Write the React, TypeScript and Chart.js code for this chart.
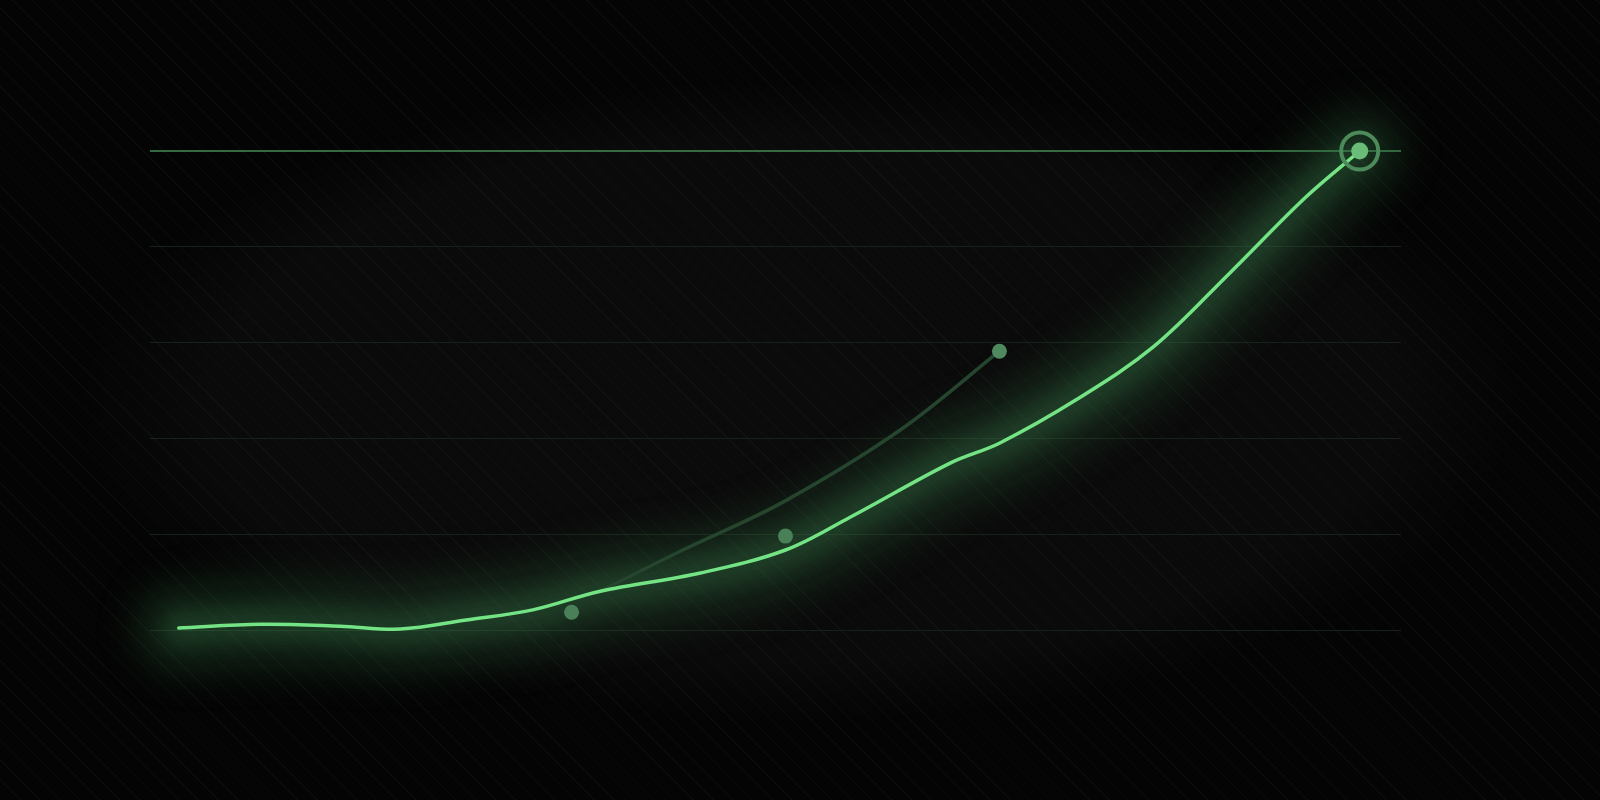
import { useEffect, useRef } from "react";
import Chart from "chart.js/auto";

// main growth curve (x: 0-100 across the plot, y: 0-100)
const mainX = [2.3, 8.8, 15.2, 20.0, 25.3, 30.6, 36.0, 44.0, 50.8, 56.0, 64.0, 67.9, 74.0, 80.2, 86.3, 92.4, 96.7];
const mainY = [0.4, 1.2, 0.8, 0.2, 2.1, 4.2, 8.1, 11.9, 16.7, 23.6, 34.9, 39.0, 48.0, 59.1, 74.5, 90.4, 100];

// dim projection branch
const branchX = [36.0, 42.6, 50.6, 60.0, 67.9];
const branchY = [8.1, 16.7, 26.7, 41.8, 58.2];

// loose markers
const markerX = [33.7, 50.8];
const markerY = [3.7, 19.6];

// highlighted peak
const peakX = [96.7];
const peakY = [100];

const yTicks = [0, 20, 40, 60, 80, 100];

const toPoints = (xs: number[], ys: number[]) => xs.map((x, i) => ({ x, y: ys[i] }));

const glowPlugin = {
	id: "glow",
	beforeDatasetDraw(chart: any, args: any) {
		const ds = chart.data.datasets[args.index];
		if (ds.glowBlur) {
			chart.ctx.save();
			chart.ctx.filter = `blur(${ds.glowBlur}px)`;
		}
	},
	afterDatasetDraw(chart: any, args: any) {
		const ds = chart.data.datasets[args.index];
		if (ds.glowBlur) chart.ctx.restore();
	}
};

export default function App() {
	const canvasRef = useRef<HTMLCanvasElement>(null);

	useEffect(() => {
		if (!canvasRef.current) return;
		const mainPts = toPoints(mainX, mainY);

		const chart = new Chart(canvasRef.current, {
			type: "line",
			data: {
				datasets: [
					{
						data: toPoints(peakX, peakY),
						showLine: false,
						pointRadius: 8.5,
						pointBackgroundColor: "#69bd78",
						pointBorderWidth: 0,
						order: 0,
						clip: false
					},
					{
						data: toPoints(peakX, peakY),
						showLine: false,
						pointRadius: 18.5,
						pointBackgroundColor: "transparent",
						pointBorderColor: "#4c8a5a",
						pointBorderWidth: 4,
						order: 0,
						clip: false
					},
					{
						data: mainPts,
						borderColor: "#74e385",
						borderWidth: 3.5,
						tension: 0.35,
						borderCapStyle: "round",
						pointRadius: 0,
						order: 1,
						clip: false
					},
					{
						data: toPoints(markerX, markerY),
						showLine: false,
						pointRadius: 7.5,
						pointBackgroundColor: "#4a8058",
						pointBorderWidth: 0,
						order: 2,
						clip: false
					},
					{
						data: toPoints(branchX, branchY),
						borderColor: "#26452e",
						borderWidth: 3.5,
						tension: 0.35,
						pointRadius: branchX.map((_, i) => (i === branchX.length - 1 ? 7.5 : 0)),
						pointBackgroundColor: "#4f8a5e",
						pointBorderWidth: 0,
						order: 3,
						clip: false
					},
					{
						data: mainPts,
						borderColor: "rgba(60,130,80,0.25)",
						borderWidth: 34,
						tension: 0.35,
						borderCapStyle: "round",
						pointRadius: 0,
						order: 5,
						clip: false,
						glowBlur: 10
					} as any,
					{
						data: mainPts,
						borderColor: "rgba(45,100,60,0.3)",
						borderWidth: 90,
						tension: 0.35,
						borderCapStyle: "round",
						pointRadius: 0,
						order: 6,
						clip: false,
						glowBlur: 18
					} as any
				]
			},
			options: {
				animation: false,
				responsive: false,
				events: [],
				layout: { padding: { left: 150, right: 199, top: 151, bottom: 170 }, autoPadding: false },
				plugins: { legend: { display: false }, tooltip: { enabled: false } },
				scales: {
					x: { type: "linear", min: 0, max: 100, display: false },
					y: {
						type: "linear",
						min: yTicks[0],
						max: yTicks[yTicks.length - 1],
						afterBuildTicks: (axis: any) => {
							axis.ticks = yTicks.map((v) => ({ value: v }));
						},
						ticks: { display: false },
						border: { display: false },
						grid: {
							drawTicks: false,
							color: (ctx: any) =>
								ctx.tick && ctx.tick.value === 100 ? "rgba(70,140,85,0.75)" : "#17231a",
							lineWidth: (ctx: any) => (ctx.tick && ctx.tick.value === 100 ? 2 : 1)
						}
					}
				}
			},
			plugins: [glowPlugin]
		});

		return () => chart.destroy();
	}, []);

	return (
		<div
			style={{
				position: "fixed",
				left: 0,
				top: 0,
				width: 1600,
				height: 800,
				backgroundColor: "#040404",
				backgroundImage:
					"repeating-linear-gradient(45deg, rgba(40,70,48,0.14) 0px, rgba(40,70,48,0.14) 1px, transparent 1px, transparent 14px), radial-gradient(ellipse 720px 320px at 800px 400px, #0b0b0b 0%, #0a0a0a 82%, #040404 100%)"
			}}
		>
			<canvas ref={canvasRef} width={1600} height={800} style={{ width: 1600, height: 800, display: "block" }} />
		</div>
	);
}
